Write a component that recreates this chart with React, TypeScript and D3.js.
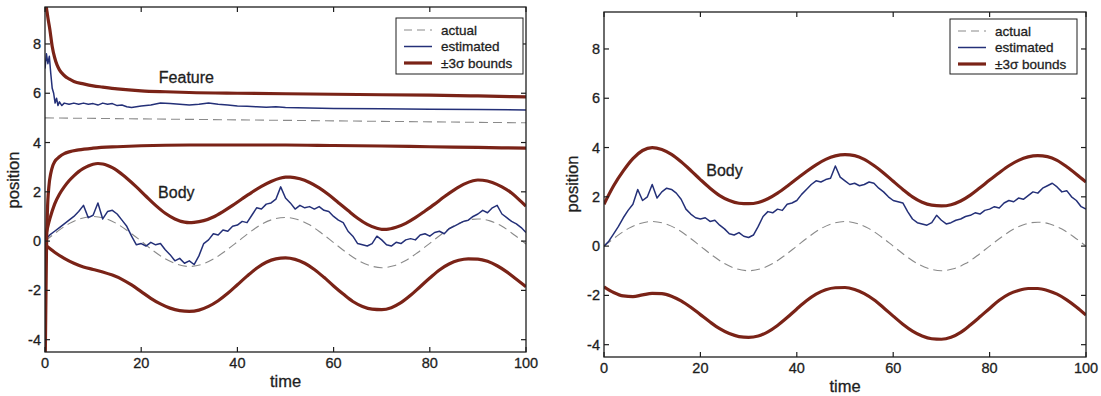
import React from 'react';
import * as d3 from 'd3';

// ---------- data ----------
const timeTicks = [0, 20, 40, 60, 80, 100];
const posTicks = [-4, -2, 0, 2, 4, 6, 8];
const legendLabels = ['actual', 'estimated', '\u00B13\u03C3 bounds'];

// estimated body positions sampled at t = 0,1,...,100
const leftBodyEst = [
  0.05, 0.25, 0.4, 0.55, 0.7, 0.85, 1.0, 1.2, 1.45, 0.95,
  1.05, 1.55, 0.9, 1.2, 1.25, 1.1, 0.85, 0.6, 0.2, -0.15,
  -0.1, -0.2, -0.05, -0.15, -0.1, -0.35, -0.55, -0.8, -0.7, -0.9,
  -0.8, -0.95, -0.6, -0.1, 0.05, 0.3, 0.25, 0.45, 0.4, 0.6,
  0.65, 0.8, 0.75, 1.05, 1.35, 1.3, 1.5, 1.55, 1.7, 2.2,
  1.75, 1.55, 1.3, 1.45, 1.35, 1.4, 1.3, 1.4, 1.25, 1.2,
  1.0, 0.85, 0.75, 0.4, 0.2, -0.1, -0.15, -0.2, -0.1, 0.2,
  0.05, -0.15, -0.2, -0.05, -0.1, 0.05, 0.1, 0.05, 0.25, 0.3,
  0.2, 0.35, 0.4, 0.3, 0.5, 0.6, 0.7, 0.8, 0.85, 1.0,
  1.1, 1.25, 1.15, 1.35, 1.45, 1.1, 0.95, 0.8, 0.7, 0.55,
  0.35,
];
const rightBodyEst = [
  0.0, 0.2, 0.5, 0.8, 1.15, 1.45, 1.7, 2.3, 1.85, 2.0,
  2.5, 1.95, 2.2, 2.35, 2.3, 2.15, 1.9, 1.5, 1.3, 1.15,
  1.1, 1.15, 1.0, 1.05, 0.85, 0.7, 0.5, 0.45, 0.55, 0.4,
  0.35, 0.45, 0.8, 1.2, 1.4, 1.35, 1.5, 1.45, 1.7, 1.75,
  1.85, 2.1, 2.3, 2.5, 2.65, 2.6, 2.7, 2.75, 3.25, 2.8,
  2.65, 2.5, 2.55, 2.45, 2.5, 2.6, 2.55, 2.35, 2.2, 2.0,
  1.85, 1.8, 1.75, 1.4, 1.1, 0.95, 0.9, 0.85, 0.95, 1.25,
  1.05, 0.9, 0.95, 1.05, 1.1, 1.2, 1.25, 1.35, 1.3, 1.45,
  1.5, 1.6, 1.55, 1.75, 1.85, 1.8, 1.95, 1.9, 2.05, 2.2,
  2.15, 2.35, 2.45, 2.55, 2.4, 2.2, 2.25, 2.0, 1.85, 1.6,
  1.5,
];

// actual body positions sampled at t = 0, 2.5, ..., 100
const leftBodyActual = [
  0, 0.38, 0.71, 0.92, 1.0, 0.92, 0.7, 0.37, 0, -0.39,
  -0.72, -0.94, -1.03, -0.95, -0.73, -0.4, -0.03, 0.35, 0.68, 0.89,
  0.96, 0.88, 0.66, 0.32, -0.06, -0.44, -0.77, -0.99, -1.08, -1.0,
  -0.79, -0.46, -0.09, 0.29, 0.62, 0.83, 0.9, 0.82, 0.6, 0.26,
  -0.12,
];
const rightBodyActual = [
  0, 0.38, 0.71, 0.92, 1.0, 0.92, 0.71, 0.38, 0, -0.38,
  -0.71, -0.92, -1.0, -0.92, -0.71, -0.38, 0, 0.38, 0.71, 0.92,
  1.0, 0.92, 0.71, 0.38, 0, -0.38, -0.71, -0.92, -1.0, -0.92,
  -0.71, -0.38, 0, 0.37, 0.69, 0.9, 0.97, 0.9, 0.69, 0.37,
  0,
];

// feature (left panel) [time, value]
const featureActual: [number, number][] = [[0, 5.0], [100, 4.8]];
const featureEst: [number, number][] = [
  [0, 7.0], [0.3, 7.6], [0.6, 7.2], [0.9, 7.5], [1.2, 6.8], [1.5, 6.2], [1.8, 6.0],
  [2.1, 5.6], [2.4, 5.8], [2.7, 5.5], [3, 5.65], [3.5, 5.5], [4, 5.6], [5, 5.55],
  [6, 5.6], [7, 5.55], [8, 5.6], [9, 5.55], [10, 5.58], [11, 5.52], [12, 5.6],
  [13, 5.55], [14, 5.58], [15, 5.5], [16, 5.52], [17, 5.45], [18, 5.42], [19, 5.45],
  [20, 5.48], [22, 5.52], [24, 5.6], [26, 5.58], [28, 5.55], [30, 5.52], [32, 5.55],
  [34, 5.6], [36, 5.55], [38, 5.52], [40, 5.48], [42, 5.47], [44, 5.45], [46, 5.43],
  [48, 5.45], [50, 5.42], [55, 5.4], [60, 5.38], [70, 5.37], [80, 5.35], [90, 5.34],
  [100, 5.32],
];
const featureUpper: [number, number][] = [
  [0, 10.5], [0.15, 9.8], [0.5, 9.2], [1, 8.6], [1.5, 7.9], [2, 7.45], [2.5, 7.15],
  [3, 6.95], [4, 6.72], [5, 6.58], [6, 6.48], [8, 6.38], [10, 6.3], [12, 6.25],
  [15, 6.18], [20, 6.1], [25, 6.06], [30, 6.03], [40, 6.0], [50, 5.98], [60, 5.96],
  [70, 5.94], [80, 5.92], [90, 5.89], [100, 5.85],
];
const featureLower: [number, number][] = [
  [0.05, -4.8], [0.15, -3], [0.3, -0.5], [0.5, 1.2], [0.8, 2.2], [1.2, 2.75],
  [1.6, 3.05], [2, 3.22], [3, 3.42], [4, 3.55], [5, 3.62], [7, 3.7], [10, 3.77],
  [15, 3.83], [20, 3.87], [30, 3.9], [40, 3.9], [50, 3.9], [60, 3.88], [70, 3.86],
  [80, 3.83], [90, 3.8], [100, 3.77],
];

// body ±3σ bounds [time, value]
const leftBodyUpper: [number, number][] = [
  [0, 0.1], [1, 0.9], [2, 1.5], [3, 1.9], [4, 2.2], [5, 2.45], [6, 2.65], [7, 2.82],
  [8, 2.95], [9, 3.05], [10, 3.12], [11, 3.15], [12, 3.13], [13, 3.07], [14, 2.98],
  [15, 2.86], [17, 2.55], [19, 2.2], [21, 1.82], [23, 1.45], [25, 1.13], [27, 0.9],
  [29, 0.77], [30, 0.75], [31, 0.76], [33, 0.83], [35, 0.98], [37, 1.2], [39, 1.45],
  [41, 1.72], [43, 1.98], [45, 2.22], [47, 2.42], [49, 2.56], [50, 2.6], [51, 2.6],
  [53, 2.53], [55, 2.38], [57, 2.16], [59, 1.88], [61, 1.56], [63, 1.24], [65, 0.93],
  [67, 0.68], [69, 0.52], [70, 0.48], [71, 0.48], [73, 0.56], [75, 0.72], [77, 0.95],
  [79, 1.22], [81, 1.5], [83, 1.8], [85, 2.07], [87, 2.3], [89, 2.45], [90, 2.48],
  [91, 2.47], [93, 2.38], [95, 2.2], [97, 1.95], [99, 1.6], [100, 1.42],
];
const leftBodyLower: [number, number][] = [
  [0, -0.15], [2, -0.45], [4, -0.7], [6, -0.9], [8, -1.05], [10, -1.15], [12, -1.25],
  [14, -1.38], [16, -1.55], [18, -1.78], [20, -2.05], [22, -2.32], [24, -2.55],
  [26, -2.72], [28, -2.82], [30, -2.85], [32, -2.8], [34, -2.65], [36, -2.42],
  [38, -2.12], [40, -1.77], [42, -1.42], [44, -1.1], [46, -0.86], [48, -0.72],
  [50, -0.68], [52, -0.74], [54, -0.9], [56, -1.15], [58, -1.47], [60, -1.82],
  [62, -2.15], [64, -2.45], [66, -2.65], [68, -2.76], [70, -2.78], [72, -2.7],
  [74, -2.5], [76, -2.2], [78, -1.85], [80, -1.5], [82, -1.17], [84, -0.93],
  [86, -0.78], [88, -0.72], [90, -0.73], [92, -0.82], [94, -1.0], [96, -1.25],
  [98, -1.55], [100, -1.85],
];
const rightBodyUpper: [number, number][] = [
  [0, 1.7], [2, 2.45], [4, 3.05], [6, 3.55], [8, 3.88], [10, 4.0], [12, 3.92],
  [14, 3.72], [16, 3.42], [18, 3.07], [20, 2.7], [22, 2.35], [24, 2.05], [26, 1.85],
  [28, 1.74], [30, 1.72], [32, 1.77], [34, 1.92], [36, 2.15], [38, 2.43], [40, 2.73],
  [42, 3.03], [44, 3.3], [46, 3.52], [48, 3.66], [50, 3.71], [52, 3.67], [54, 3.52],
  [56, 3.27], [58, 2.97], [60, 2.63], [62, 2.3], [64, 2.0], [66, 1.78], [68, 1.66],
  [70, 1.63], [72, 1.68], [74, 1.83], [76, 2.07], [78, 2.37], [80, 2.68], [82, 2.98],
  [84, 3.26], [86, 3.48], [88, 3.62], [90, 3.67], [92, 3.63], [94, 3.48], [96, 3.22],
  [98, 2.92], [100, 2.6],
];
const rightBodyLower: [number, number][] = [
  [0, -1.65], [2, -1.88], [4, -2.02], [6, -2.05], [8, -1.98], [10, -1.92], [12, -1.93],
  [14, -2.03], [16, -2.22], [18, -2.48], [20, -2.78], [22, -3.08], [24, -3.35],
  [26, -3.55], [28, -3.67], [30, -3.7], [32, -3.65], [34, -3.48], [36, -3.22],
  [38, -2.9], [40, -2.55], [42, -2.22], [44, -1.95], [46, -1.77], [48, -1.69],
  [50, -1.68], [52, -1.76], [54, -1.93], [56, -2.18], [58, -2.5], [60, -2.84],
  [62, -3.17], [64, -3.45], [66, -3.65], [68, -3.76], [70, -3.78], [72, -3.7],
  [74, -3.5], [76, -3.2], [78, -2.87], [80, -2.53], [82, -2.2], [84, -1.95],
  [86, -1.8], [88, -1.72], [90, -1.72], [92, -1.8], [94, -1.95], [96, -2.18],
  [98, -2.47], [100, -2.8],
];

// ---------- styles ----------
const FONT = "'Liberation Sans', Arial, Helvetica, sans-serif";
const RED = '#7a2317';
const BLUE = '#243078';
const GRAY = '#8a8a8a';
const INK = '#1e1e1e';
const TXT = { fill: INK, stroke: INK, strokeWidth: 0.3, fontFamily: FONT } as const;

const perUnit = (vals: number[], step: number): [number, number][] =>
  vals.map((v, i) => [i * step, v]);

type Series = { data: [number, number][]; kind: 'actual' | 'est' | 'bound' };
type Note = { text: string; t: number; v: number };

interface PanelProps {
  id: string;
  x0: number; x1: number; y0: number; y1: number;
  series: Series[];
  notes: Note[];
  legend: { x: number; y: number; w: number; h: number };
  tickBase: number;
  timeBase: number;
  posX: number;
  posY: number;
}

function Panel(p: PanelProps) {
  const xs = d3.scaleLinear().domain([0, 100]).range([p.x0, p.x1]);
  const ys = d3.scaleLinear().domain([-4.5, 9.5]).range([p.y1, p.y0]);
  const smooth = d3.line<[number, number]>().x(d => xs(d[0])).y(d => ys(d[1])).curve(d3.curveMonotoneX);
  const raw = d3.line<[number, number]>().x(d => xs(d[0])).y(d => ys(d[1]));
  const tk = 5;
  const order = { actual: 0, est: 1, bound: 2 } as const;
  const sorted = [...p.series].sort((a, b) => order[a.kind] - order[b.kind]);
  const lg = p.legend;
  const rowY = [lg.y + 12, lg.y + 28.5, lg.y + 45];
  return (
    <g>
      <defs>
        <clipPath id={`clip-${p.id}`}>
          <rect x={p.x0} y={p.y0} width={p.x1 - p.x0} height={p.y1 - p.y0} />
        </clipPath>
      </defs>
      <g clipPath={`url(#clip-${p.id})`}>
        {sorted.map((s, i) => (
          <path
            key={i}
            d={(s.kind === 'est' ? raw : smooth)(s.data) || ''}
            fill="none"
            stroke={s.kind === 'actual' ? GRAY : s.kind === 'est' ? BLUE : RED}
            strokeWidth={s.kind === 'actual' ? 1.1 : s.kind === 'est' ? 1.5 : 3.2}
            strokeDasharray={s.kind === 'actual' ? '9,5' : undefined}
            strokeLinejoin="round"
          />
        ))}
      </g>
      {p.notes.map((n, i) => (
        <text key={i} x={xs(n.t)} y={ys(n.v) + 5.5} textAnchor="middle" fontSize={16} {...TXT}>
          {n.text}
        </text>
      ))}
      {/* box */}
      <rect x={p.x0} y={p.y0} width={p.x1 - p.x0} height={p.y1 - p.y0} fill="none" stroke={INK} strokeWidth={1.3} />
      {timeTicks.map(t => (
        <g key={`xt${t}`}>
          <line x1={xs(t)} x2={xs(t)} y1={p.y1} y2={p.y1 - tk} stroke={INK} strokeWidth={1.2} />
          <line x1={xs(t)} x2={xs(t)} y1={p.y0} y2={p.y0 + tk} stroke={INK} strokeWidth={1.2} />
          <text x={xs(t)} y={p.tickBase} textAnchor="middle" fontSize={14.5} {...TXT}>{t}</text>
        </g>
      ))}
      {posTicks.map(v => (
        <g key={`yt${v}`}>
          <line x1={p.x0} x2={p.x0 + tk} y1={ys(v)} y2={ys(v)} stroke={INK} strokeWidth={1.2} />
          <line x1={p.x1} x2={p.x1 - tk} y1={ys(v)} y2={ys(v)} stroke={INK} strokeWidth={1.2} />
          <text x={p.x0 - 4} y={ys(v) + 5} textAnchor="end" fontSize={14.5} {...TXT}>{v}</text>
        </g>
      ))}
      <text x={(p.x0 + p.x1) / 2} y={p.timeBase} textAnchor="middle" fontSize={16.5} {...TXT}>time</text>
      <text transform={`translate(${p.posX},${p.posY}) rotate(-90)`} textAnchor="middle" fontSize={16.5} {...TXT}>position</text>
      {/* legend */}
      <rect x={lg.x} y={lg.y} width={lg.w} height={lg.h} fill="#fff" stroke={INK} strokeWidth={1} />
      {legendLabels.map((lab, i) => (
        <g key={lab}>
          <line
            x1={lg.x + 8} x2={lg.x + 36} y1={rowY[i]} y2={rowY[i]}
            stroke={i === 0 ? GRAY : i === 1 ? BLUE : RED}
            strokeWidth={i === 0 ? 1.2 : i === 1 ? 1.5 : 3.2}
            strokeDasharray={i === 0 ? '8,5' : undefined}
          />
          <text x={lg.x + 45} y={rowY[i] + 4.8} fontSize={13.5} {...TXT}>{lab}</text>
        </g>
      ))}
    </g>
  );
}

export default function App() {
  const leftSeries: Series[] = [
    { data: featureActual, kind: 'actual' },
    { data: perUnit(leftBodyActual, 2.5), kind: 'actual' },
    { data: featureEst, kind: 'est' },
    { data: perUnit(leftBodyEst, 1), kind: 'est' },
    { data: featureUpper, kind: 'bound' },
    { data: featureLower, kind: 'bound' },
    { data: leftBodyUpper, kind: 'bound' },
    { data: leftBodyLower, kind: 'bound' },
  ];
  const rightSeries: Series[] = [
    { data: perUnit(rightBodyActual, 2.5), kind: 'actual' },
    { data: perUnit(rightBodyEst, 1), kind: 'est' },
    { data: rightBodyUpper, kind: 'bound' },
    { data: rightBodyLower, kind: 'bound' },
  ];
  return (
    <svg
      width={1101}
      height={396}
      style={{ position: 'absolute', left: 0, top: 0, background: '#fff' }}
    >
      <rect x={0} y={0} width={1101} height={396} fill="#fff" />
      <Panel
        id="L" x0={45} x1={526} y0={7} y1={352}
        series={leftSeries}
        notes={[{ text: 'Feature', t: 29.4, v: 6.62 }, { text: 'Body', t: 27.3, v: 1.96 }]}
        legend={{ x: 396, y: 18, w: 127, h: 56 }}
        tickBase={368} timeBase={387} posX={19} posY={180}
      />
      <Panel
        id="R" x0={604} x1={1086} y0={12} y1={357}
        series={rightSeries}
        notes={[{ text: 'Body', t: 25, v: 3.05 }]}
        legend={{ x: 950, y: 19, w: 127, h: 55 }}
        tickBase={373} timeBase={392} posX={578} posY={184}
      />
    </svg>
  );
}
